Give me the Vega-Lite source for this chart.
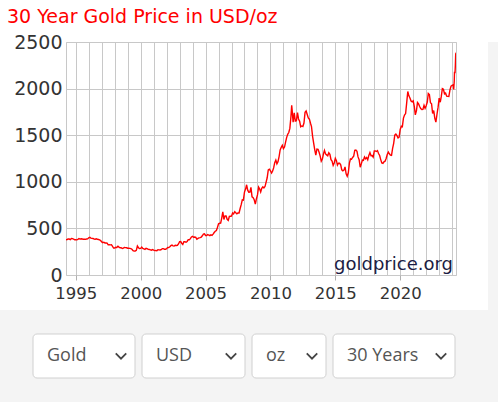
{
"$schema": "https://vega.github.io/schema/vega-lite/v6.json",
"background": "white",
"padding": {"top": 7, "left": 0, "right": 0, "bottom": 0},
"config": {"view": {"stroke": null}, "font": "DejaVu Sans"},
"title": {"text": "30 Year Gold Price in USD/oz", "anchor": "start", "frame": "bounds", "dx": 7, "offset": 6.5, "font": "DejaVu Sans", "fontSize": 19, "fontWeight": "normal", "color": "#ff0000"},
"datasets": {
"gold": [
{"date":"1994-04","price":377},{"date":"1994-05","price":381},{"date":"1994-06","price":386},{"date":"1994-07","price":386},{"date":"1994-08","price":380},{"date":"1994-09","price":392},{"date":"1994-10","price":390},{"date":"1994-11","price":384},{"date":"1994-12","price":379},
{"date":"1995-01","price":379},{"date":"1995-02","price":377},{"date":"1995-03","price":382},{"date":"1995-04","price":391},{"date":"1995-05","price":385},{"date":"1995-06","price":388},{"date":"1995-07","price":386},{"date":"1995-08","price":384},{"date":"1995-09","price":383},{"date":"1995-10","price":383},{"date":"1995-11","price":386},{"date":"1995-12","price":387},
{"date":"1996-01","price":400},{"date":"1996-02","price":405},{"date":"1996-03","price":396},{"date":"1996-04","price":393},{"date":"1996-05","price":392},{"date":"1996-06","price":385},{"date":"1996-07","price":384},{"date":"1996-08","price":388},{"date":"1996-09","price":383},{"date":"1996-10","price":381},{"date":"1996-11","price":378},{"date":"1996-12","price":369},
{"date":"1997-01","price":355},{"date":"1997-02","price":347},{"date":"1997-03","price":352},{"date":"1997-04","price":344},{"date":"1997-05","price":344},{"date":"1997-06","price":341},{"date":"1997-07","price":324},{"date":"1997-08","price":324},{"date":"1997-09","price":323},{"date":"1997-10","price":325},{"date":"1997-11","price":306},{"date":"1997-12","price":289},
{"date":"1998-01","price":289},{"date":"1998-02","price":298},{"date":"1998-03","price":296},{"date":"1998-04","price":308},{"date":"1998-05","price":299},{"date":"1998-06","price":292},{"date":"1998-07","price":293},{"date":"1998-08","price":284},{"date":"1998-09","price":289},{"date":"1998-10","price":296},{"date":"1998-11","price":294},{"date":"1998-12","price":292},
{"date":"1999-01","price":287},{"date":"1999-02","price":287},{"date":"1999-03","price":286},{"date":"1999-04","price":283},{"date":"1999-05","price":276},{"date":"1999-06","price":261},{"date":"1999-07","price":256},{"date":"1999-08","price":257},{"date":"1999-09","price":265},{"date":"1999-10","price":311},{"date":"1999-11","price":293},{"date":"1999-12","price":283},
{"date":"2000-01","price":285},{"date":"2000-02","price":300},{"date":"2000-03","price":286},{"date":"2000-04","price":280},{"date":"2000-05","price":275},{"date":"2000-06","price":286},{"date":"2000-07","price":282},{"date":"2000-08","price":275},{"date":"2000-09","price":274},{"date":"2000-10","price":270},{"date":"2000-11","price":266},{"date":"2000-12","price":272},
{"date":"2001-01","price":266},{"date":"2001-02","price":262},{"date":"2001-03","price":263},{"date":"2001-04","price":261},{"date":"2001-05","price":272},{"date":"2001-06","price":270},{"date":"2001-07","price":268},{"date":"2001-08","price":272},{"date":"2001-09","price":283},{"date":"2001-10","price":283},{"date":"2001-11","price":276},{"date":"2001-12","price":276},
{"date":"2002-01","price":282},{"date":"2002-02","price":296},{"date":"2002-03","price":294},{"date":"2002-04","price":303},{"date":"2002-05","price":315},{"date":"2002-06","price":321},{"date":"2002-07","price":313},{"date":"2002-08","price":310},{"date":"2002-09","price":319},{"date":"2002-10","price":317},{"date":"2002-11","price":319},{"date":"2002-12","price":333},
{"date":"2003-01","price":357},{"date":"2003-02","price":359},{"date":"2003-03","price":341},{"date":"2003-04","price":328},{"date":"2003-05","price":356},{"date":"2003-06","price":356},{"date":"2003-07","price":351},{"date":"2003-08","price":360},{"date":"2003-09","price":379},{"date":"2003-10","price":379},{"date":"2003-11","price":390},{"date":"2003-12","price":408},
{"date":"2004-01","price":414},{"date":"2004-02","price":405},{"date":"2004-03","price":407},{"date":"2004-04","price":403},{"date":"2004-05","price":383},{"date":"2004-06","price":392},{"date":"2004-07","price":398},{"date":"2004-08","price":401},{"date":"2004-09","price":405},{"date":"2004-10","price":421},{"date":"2004-11","price":439},{"date":"2004-12","price":442},
{"date":"2005-01","price":424},{"date":"2005-02","price":423},{"date":"2005-03","price":434},{"date":"2005-04","price":429},{"date":"2005-05","price":422},{"date":"2005-06","price":431},{"date":"2005-07","price":425},{"date":"2005-08","price":438},{"date":"2005-09","price":456},{"date":"2005-10","price":470},{"date":"2005-11","price":477},{"date":"2005-12","price":510},
{"date":"2006-01","price":550},{"date":"2006-02","price":555},{"date":"2006-03","price":557},{"date":"2006-04","price":611},{"date":"2006-05","price":677},{"date":"2006-06","price":596},{"date":"2006-07","price":634},{"date":"2006-08","price":633},{"date":"2006-09","price":598},{"date":"2006-10","price":586},{"date":"2006-11","price":628},{"date":"2006-12","price":630},
{"date":"2007-01","price":631},{"date":"2007-02","price":665},{"date":"2007-03","price":655},{"date":"2007-04","price":679},{"date":"2007-05","price":667},{"date":"2007-06","price":656},{"date":"2007-07","price":665},{"date":"2007-08","price":665},{"date":"2007-09","price":713},{"date":"2007-10","price":755},{"date":"2007-11","price":806},{"date":"2007-12","price":803},
{"date":"2008-01","price":890},{"date":"2008-02","price":922},{"date":"2008-03","price":968},{"date":"2008-04","price":910},{"date":"2008-05","price":889},{"date":"2008-06","price":890},{"date":"2008-07","price":940},{"date":"2008-08","price":839},{"date":"2008-09","price":830},{"date":"2008-10","price":807},{"date":"2008-11","price":761},{"date":"2008-12","price":816},
{"date":"2009-01","price":859},{"date":"2009-02","price":943},{"date":"2009-03","price":924},{"date":"2009-04","price":890},{"date":"2009-05","price":929},{"date":"2009-06","price":946},{"date":"2009-07","price":934},{"date":"2009-08","price":949},{"date":"2009-09","price":997},{"date":"2009-10","price":1043},{"date":"2009-11","price":1127},{"date":"2009-12","price":1135},
{"date":"2010-01","price":1118},{"date":"2010-02","price":1095},{"date":"2010-03","price":1113},{"date":"2010-04","price":1149},{"date":"2010-05","price":1205},{"date":"2010-06","price":1233},{"date":"2010-07","price":1193},{"date":"2010-08","price":1216},{"date":"2010-09","price":1271},{"date":"2010-10","price":1342},{"date":"2010-11","price":1370},{"date":"2010-12","price":1391},
{"date":"2011-01","price":1356},{"date":"2011-02","price":1373},{"date":"2011-03","price":1424},{"date":"2011-04","price":1474},{"date":"2011-05","price":1510},{"date":"2011-06","price":1529},{"date":"2011-07","price":1573},{"date":"2011-08","price":1700},{"date":"2011-08-22","price":1820},{"date":"2011-09","price":1780},{"date":"2011-10","price":1640},{"date":"2011-11","price":1739},{"date":"2011-12","price":1652},
{"date":"2012-01","price":1656},{"date":"2012-02","price":1742},{"date":"2012-03","price":1674},{"date":"2012-04","price":1650},{"date":"2012-05","price":1591},{"date":"2012-06","price":1599},{"date":"2012-07","price":1594},{"date":"2012-08","price":1630},{"date":"2012-09","price":1745},{"date":"2012-10","price":1760},{"date":"2012-11","price":1722},{"date":"2012-12","price":1685},
{"date":"2013-01","price":1672},{"date":"2013-02","price":1628},{"date":"2013-03","price":1593},{"date":"2013-04","price":1488},{"date":"2013-05","price":1414},{"date":"2013-06","price":1343},{"date":"2013-07","price":1286},{"date":"2013-08","price":1352},{"date":"2013-09","price":1349},{"date":"2013-10","price":1317},{"date":"2013-11","price":1276},{"date":"2013-12","price":1222},
{"date":"2014-01","price":1244},{"date":"2014-02","price":1300},{"date":"2014-03","price":1336},{"date":"2014-04","price":1299},{"date":"2014-05","price":1289},{"date":"2014-06","price":1279},{"date":"2014-07","price":1311},{"date":"2014-08","price":1295},{"date":"2014-09","price":1237},{"date":"2014-10","price":1223},{"date":"2014-11","price":1176},{"date":"2014-12","price":1202},
{"date":"2015-01","price":1252},{"date":"2015-02","price":1227},{"date":"2015-03","price":1179},{"date":"2015-04","price":1199},{"date":"2015-05","price":1199},{"date":"2015-06","price":1182},{"date":"2015-07","price":1128},{"date":"2015-08","price":1118},{"date":"2015-09","price":1125},{"date":"2015-10","price":1159},{"date":"2015-11","price":1086},{"date":"2015-12","price":1060},
{"date":"2016-01","price":1097},{"date":"2016-02","price":1200},{"date":"2016-03","price":1245},{"date":"2016-04","price":1242},{"date":"2016-05","price":1261},{"date":"2016-06","price":1276},{"date":"2016-07","price":1337},{"date":"2016-08","price":1340},{"date":"2016-09","price":1327},{"date":"2016-10","price":1267},{"date":"2016-11","price":1238},{"date":"2016-12","price":1157},
{"date":"2017-01","price":1192},{"date":"2017-02","price":1234},{"date":"2017-03","price":1231},{"date":"2017-04","price":1267},{"date":"2017-05","price":1246},{"date":"2017-06","price":1260},{"date":"2017-07","price":1237},{"date":"2017-08","price":1283},{"date":"2017-09","price":1314},{"date":"2017-10","price":1280},{"date":"2017-11","price":1282},{"date":"2017-12","price":1265},
{"date":"2018-01","price":1331},{"date":"2018-02","price":1331},{"date":"2018-03","price":1325},{"date":"2018-04","price":1335},{"date":"2018-05","price":1304},{"date":"2018-06","price":1282},{"date":"2018-07","price":1238},{"date":"2018-08","price":1202},{"date":"2018-09","price":1198},{"date":"2018-10","price":1215},{"date":"2018-11","price":1221},{"date":"2018-12","price":1250},
{"date":"2019-01","price":1292},{"date":"2019-02","price":1320},{"date":"2019-03","price":1301},{"date":"2019-04","price":1286},{"date":"2019-05","price":1284},{"date":"2019-06","price":1359},{"date":"2019-07","price":1413},{"date":"2019-08","price":1500},{"date":"2019-09","price":1511},{"date":"2019-10","price":1495},{"date":"2019-11","price":1470},{"date":"2019-12","price":1479},
{"date":"2020-01","price":1561},{"date":"2020-02","price":1597},{"date":"2020-03","price":1592},{"date":"2020-04","price":1683},{"date":"2020-05","price":1716},{"date":"2020-06","price":1732},{"date":"2020-07","price":1847},{"date":"2020-08","price":1969},{"date":"2020-09","price":1922},{"date":"2020-10","price":1900},{"date":"2020-11","price":1866},{"date":"2020-12","price":1858},
{"date":"2021-01","price":1868},{"date":"2021-02","price":1808},{"date":"2021-03","price":1718},{"date":"2021-04","price":1760},{"date":"2021-05","price":1850},{"date":"2021-06","price":1835},{"date":"2021-07","price":1808},{"date":"2021-08","price":1785},{"date":"2021-09","price":1775},{"date":"2021-10","price":1777},{"date":"2021-11","price":1821},{"date":"2021-12","price":1789},
{"date":"2022-01","price":1816},{"date":"2022-02","price":1856},{"date":"2022-03","price":1948},{"date":"2022-04","price":1937},{"date":"2022-05","price":1849},{"date":"2022-06","price":1837},{"date":"2022-07","price":1733},{"date":"2022-08","price":1765},{"date":"2022-09","price":1681},{"date":"2022-10","price":1640},{"date":"2022-11","price":1725},{"date":"2022-12","price":1798},
{"date":"2023-01","price":1898},{"date":"2023-02","price":1854},{"date":"2023-03","price":1913},{"date":"2023-04","price":2000},{"date":"2023-05","price":1993},{"date":"2023-06","price":1943},{"date":"2023-07","price":1951},{"date":"2023-08","price":1919},{"date":"2023-09","price":1917},{"date":"2023-10","price":1916},{"date":"2023-11","price":1985},{"date":"2023-12","price":2027},
{"date":"2024-01","price":2034},{"date":"2024-02-01","price":2040},{"date":"2024-02-14","price":1992},{"date":"2024-03-01","price":2085},{"date":"2024-03-08","price":2180},{"date":"2024-03-22","price":2165},{"date":"2024-04-01","price":2250},{"date":"2024-04-08","price":2340},{"date":"2024-04-12","price":2370},{"date":"2024-04-19","price":2385}
]
},
"spacing": 0,
"vconcat": [
{
"spacing": 31,
"hconcat": [
{
"spacing": 0,
"bounds": "flush",
"hconcat": [
{
"width": 66, "height": 233,
"data": {"values": [{}]},
"mark": {"type": "point", "opacity": 0},
"encoding": {
"y": {"datum": 0, "type": "quantitative", "scale": {"domain": [0, 2500], "nice": false},
"axis": {"title": null, "values": [0, 500, 1000, 1500, 2000, 2500], "format": "d", "orient": "left", "offset": -66, "domain": false, "ticks": false, "tickSize": 0, "grid": false, "labelFont": "DejaVu Sans", "labelFontSize": 19, "labelColor": "#333333", "labelPadding": 4}}
}
},
{
"width": 390, "height": 233,
"view": {"stroke": "#c8c8c8", "strokeWidth": 1},
"layer": [
{
"data": {"name": "gold"},
"mark": {"type": "line", "color": "#ff0000", "strokeWidth": 1.4, "clip": true},
"encoding": {
"x": {"field": "date", "type": "temporal",
"scale": {"domain": [{"year": 1994, "month": 4, "date": 1}, {"year": 2024, "month": 4, "date": 19}], "nice": false},
"axis": {"title": null, "domain": false, "tickCount": {"interval": "year", "step": 1}, "grid": true, "gridColor": "#c8c8c8", "gridWidth": 1, "gridOpacity": 1, "tickColor": "#b0b0b0", "tickSize": 5, "tickOpacity": {"condition": {"test": "year(datum.value) % 5 === 0", "value": 1}, "value": 0}, "labelExpr": "year(datum.value) % 5 === 0 ? timeFormat(datum.value, '%Y') : ''", "labelOverlap": false, "labelFlush": false, "labelFont": "DejaVu Sans", "labelFontSize": 16.5, "labelColor": "#333333", "labelPadding": 5}},
"y": {"field": "price", "type": "quantitative", "scale": {"domain": [0, 2500], "nice": false},
"axis": {"title": null, "values": [0, 500, 1000, 1500, 2000, 2500], "labels": false, "ticks": false, "domain": false, "grid": true, "gridColor": "#c8c8c8", "gridOpacity": 1}}
}
},
{
"data": {"values": [{}]},
"mark": {"type": "text", "text": "goldprice.org", "align": "right", "baseline": "alphabetic", "dx": -3, "font": "DejaVu Sans", "fontSize": 18, "color": "#1c1c44"},
"encoding": {
"x": {"datum": {"year": 2024, "month": 4, "date": 19}, "type": "temporal"},
"y": {"datum": 55, "type": "quantitative"}
}
}
]
}
]
},
{
"width": 10, "height": 268,
"data": {"values": [{}]},
"mark": {"type": "point", "opacity": 0},
"view": {"fill": "#f4f4f4", "stroke": null}
}
]
},
{
"width": 498, "height": 92,
"view": {"fill": "#f4f4f4", "stroke": null},
"resolve": {"scale": {"x": "independent"}},
"layer": [
{
"data": {"values": [{"menu": "Gold"}]},
"layer": [
{"mark": {"type": "rect", "fill": "white", "stroke": "#d0d0d0", "strokeWidth": 1, "cornerRadius": 4},
"encoding": {"x": {"field": "menu", "type": "nominal", "scale": {"type": "band", "range": [33, 135], "paddingInner": 0, "paddingOuter": 0}, "axis": null},
"y": {"datum": "dd", "type": "nominal", "scale": {"type": "band", "paddingOuter": 0.545, "paddingInner": 0}, "axis": null}}},
{"mark": {"type": "text", "align": "left", "baseline": "middle", "dx": 14, "font": "Open Sans", "fontSize": 18, "color": "#555555"},
"encoding": {"x": {"field": "menu", "type": "nominal", "bandPosition": 0}, "y": {"datum": "dd", "type": "nominal", "bandPosition": 0.5}, "text": {"field": "menu"}}},
{"mark": {"type": "point", "shape": "M-1,-0.5L0,0.5L1,-0.5", "filled": false, "stroke": "#444444", "strokeWidth": 1.8, "size": 110, "opacity": 1, "xOffset": -14},
"encoding": {"x": {"field": "menu", "type": "nominal", "bandPosition": 1}, "y": {"datum": "dd", "type": "nominal", "bandPosition": 0.5}}}
]
},
{
"data": {"values": [{"menu": "USD"}]},
"layer": [
{"mark": {"type": "rect", "fill": "white", "stroke": "#d0d0d0", "strokeWidth": 1, "cornerRadius": 4},
"encoding": {"x": {"field": "menu", "type": "nominal", "scale": {"type": "band", "range": [142, 245], "paddingInner": 0, "paddingOuter": 0}, "axis": null},
"y": {"datum": "dd", "type": "nominal", "axis": null}}},
{"mark": {"type": "text", "align": "left", "baseline": "middle", "dx": 14, "font": "Open Sans", "fontSize": 18, "color": "#555555"},
"encoding": {"x": {"field": "menu", "type": "nominal", "bandPosition": 0}, "y": {"datum": "dd", "type": "nominal", "bandPosition": 0.5}, "text": {"field": "menu"}}},
{"mark": {"type": "point", "shape": "M-1,-0.5L0,0.5L1,-0.5", "filled": false, "stroke": "#444444", "strokeWidth": 1.8, "size": 110, "opacity": 1, "xOffset": -14},
"encoding": {"x": {"field": "menu", "type": "nominal", "bandPosition": 1}, "y": {"datum": "dd", "type": "nominal", "bandPosition": 0.5}}}
]
},
{
"data": {"values": [{"menu": "oz"}]},
"layer": [
{"mark": {"type": "rect", "fill": "white", "stroke": "#d0d0d0", "strokeWidth": 1, "cornerRadius": 4},
"encoding": {"x": {"field": "menu", "type": "nominal", "scale": {"type": "band", "range": [252, 326], "paddingInner": 0, "paddingOuter": 0}, "axis": null},
"y": {"datum": "dd", "type": "nominal", "axis": null}}},
{"mark": {"type": "text", "align": "left", "baseline": "middle", "dx": 14, "font": "Open Sans", "fontSize": 18, "color": "#555555"},
"encoding": {"x": {"field": "menu", "type": "nominal", "bandPosition": 0}, "y": {"datum": "dd", "type": "nominal", "bandPosition": 0.5}, "text": {"field": "menu"}}},
{"mark": {"type": "point", "shape": "M-1,-0.5L0,0.5L1,-0.5", "filled": false, "stroke": "#444444", "strokeWidth": 1.8, "size": 110, "opacity": 1, "xOffset": -14},
"encoding": {"x": {"field": "menu", "type": "nominal", "bandPosition": 1}, "y": {"datum": "dd", "type": "nominal", "bandPosition": 0.5}}}
]
},
{
"data": {"values": [{"menu": "30 Years"}]},
"layer": [
{"mark": {"type": "rect", "fill": "white", "stroke": "#d0d0d0", "strokeWidth": 1, "cornerRadius": 4},
"encoding": {"x": {"field": "menu", "type": "nominal", "scale": {"type": "band", "range": [333, 455], "paddingInner": 0, "paddingOuter": 0}, "axis": null},
"y": {"datum": "dd", "type": "nominal", "axis": null}}},
{"mark": {"type": "text", "align": "left", "baseline": "middle", "dx": 14, "font": "Open Sans", "fontSize": 18, "color": "#555555"},
"encoding": {"x": {"field": "menu", "type": "nominal", "bandPosition": 0}, "y": {"datum": "dd", "type": "nominal", "bandPosition": 0.5}, "text": {"field": "menu"}}},
{"mark": {"type": "point", "shape": "M-1,-0.5L0,0.5L1,-0.5", "filled": false, "stroke": "#444444", "strokeWidth": 1.8, "size": 110, "opacity": 1, "xOffset": -14},
"encoding": {"x": {"field": "menu", "type": "nominal", "bandPosition": 1}, "y": {"datum": "dd", "type": "nominal", "bandPosition": 0.5}}}
]
}
]
}
]
}
